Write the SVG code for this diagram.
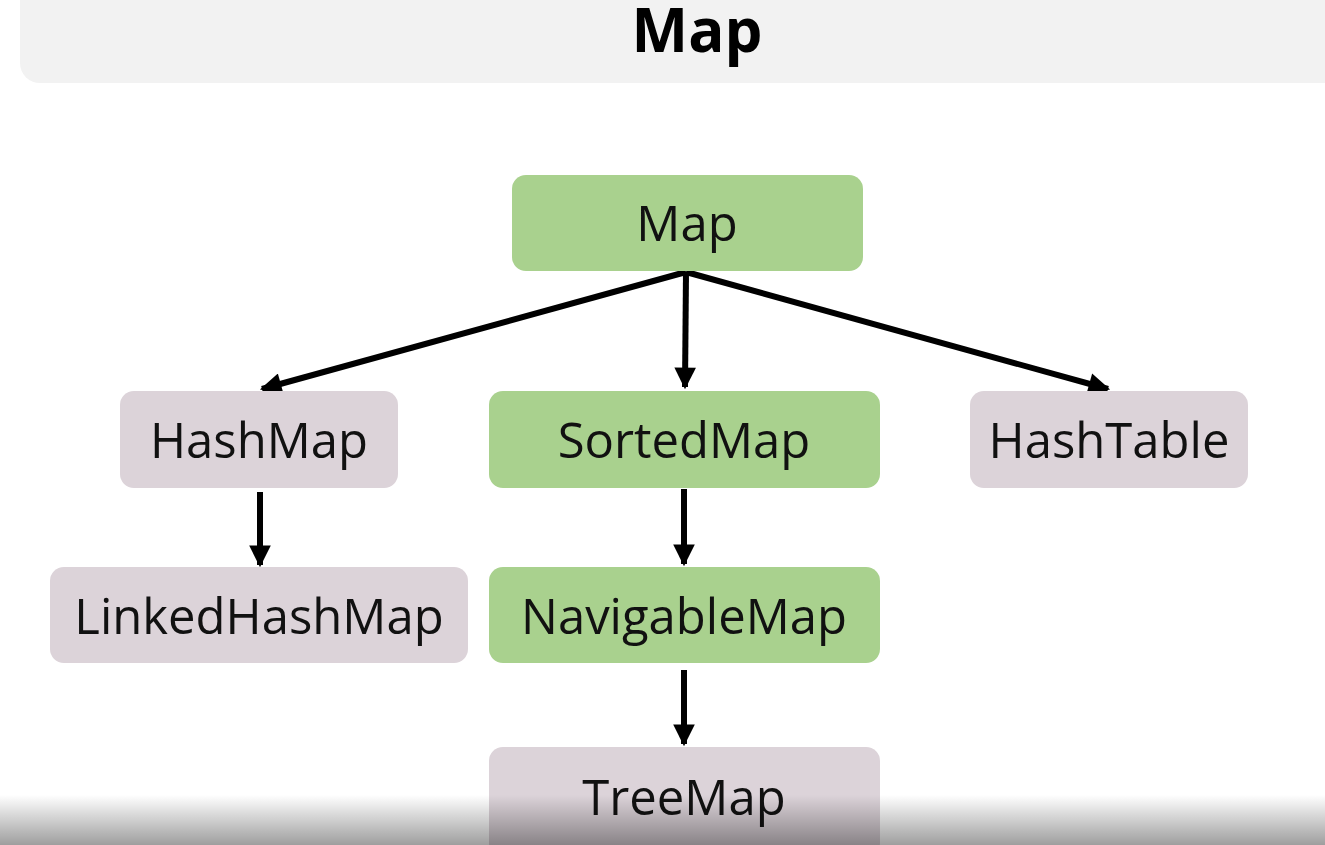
<svg xmlns="http://www.w3.org/2000/svg" width="1325" height="845" viewBox="0 0 1325 845">
<style>
.green{fill:#a9d18e}
.gray{fill:#dcd3d9}
.lbl{font-family:"Open Sans","Noto Sans",sans-serif;font-size:49px;fill:#111;text-anchor:middle}
.title{font-family:"Open Sans","Noto Sans",sans-serif;font-weight:bold;font-size:60px;fill:#000;text-anchor:middle}
.edge{stroke:#000;stroke-width:6;fill:none;marker-end:url(#arr)}
</style>
<defs>
<marker id="arr" viewBox="0 0 10 10" refX="9" refY="5" markerWidth="3.8" markerHeight="3.6" orient="auto" markerUnits="strokeWidth">
<path d="M0,0 L10,5 L0,10 z" fill="#000"/>
</marker>
<linearGradient id="shade" x1="0" y1="0" x2="0" y2="1">
<stop offset="0" stop-color="#000" stop-opacity="0"/>
<stop offset="1" stop-color="#000" stop-opacity="0.38"/>
</linearGradient>
</defs>
<rect width="1325" height="845" fill="#fff"/>
<g id="titlebar">
<rect x="20" y="-30" width="1340" height="113" rx="20" fill="#f2f2f2"/>
<text class="title" x="697" y="52">Map</text>
</g>
<g id="connectors">
<line class="edge" x1="686" y1="272" x2="262" y2="389"/>
<line class="edge" x1="686" y1="272" x2="685" y2="387"/>
<line class="edge" x1="686" y1="272" x2="1108" y2="389"/>
<line class="edge" x1="260" y1="492" x2="260" y2="565"/>
<line class="edge" x1="684" y1="489" x2="684" y2="564"/>
<line class="edge" x1="684" y1="670" x2="684" y2="744"/>
</g>
<g id="node-map">
<rect class="green" x="512" y="175" width="351" height="96" rx="14"/>
<text class="lbl" x="687" y="241">Map</text>
</g>
<g id="node-hashmap">
<rect class="gray" x="120" y="391" width="278" height="97" rx="14"/>
<text class="lbl" x="259" y="458">HashMap</text>
</g>
<g id="node-sortedmap">
<rect class="green" x="489" y="391" width="391" height="97" rx="14"/>
<text class="lbl" x="684" y="458">SortedMap</text>
</g>
<g id="node-hashtable">
<rect class="gray" x="970" y="391" width="278" height="97" rx="14"/>
<text class="lbl" x="1109" y="458">HashTable</text>
</g>
<g id="node-linkedhashmap">
<rect class="gray" x="50" y="567" width="418" height="96" rx="14"/>
<text class="lbl" x="259" y="634">LinkedHashMap</text>
</g>
<g id="node-navigablemap">
<rect class="green" x="489" y="567" width="391" height="96" rx="14"/>
<text class="lbl" x="684" y="634">NavigableMap</text>
</g>
<g id="node-treemap">
<rect class="gray" x="489" y="747" width="391" height="110" rx="14"/>
<text class="lbl" x="684" y="815">TreeMap</text>
</g>
<rect x="0" y="795" width="1325" height="50" fill="url(#shade)"/>
</svg>
